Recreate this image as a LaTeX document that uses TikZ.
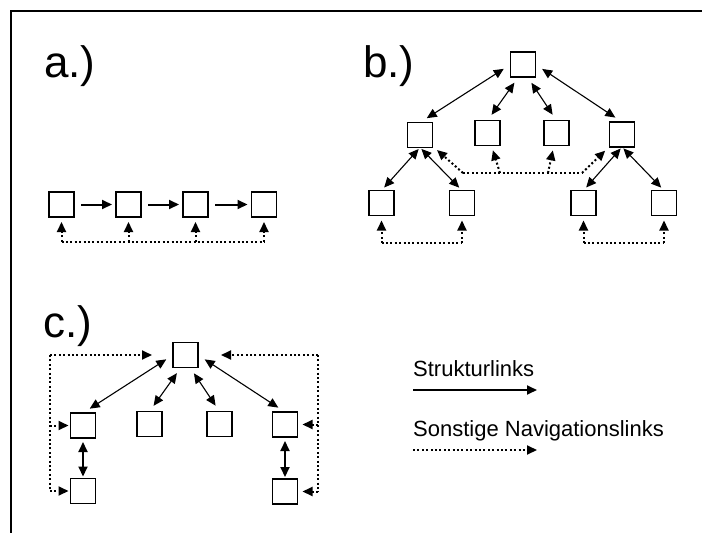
\documentclass[tikz,border=0pt]{standalone}
\usepackage{fontspec}
\setmainfont{Liberation Sans}
\usetikzlibrary{arrows.meta}
\begin{document}
\begin{tikzpicture}[x=1pt,y=-1pt,
  >={Triangle[length=10pt,width=9pt]},
  box/.style={draw, line width=1.3pt, minimum size=25pt, inner sep=0pt, outer sep=0pt},
  lbl/.style={anchor=base west, inner sep=0pt, font=\fontsize{44}{50}\selectfont},
  legtxt/.style={anchor=base west, inner sep=0pt, font=\fontsize{22}{26}\selectfont},
  struct/.style={line width=1.1pt, <->, shorten <=7pt, shorten >=7pt},
  thickarr/.style={line width=2pt, ->},
  thickdbl/.style={line width=2pt, <->},
  navline/.style={line width=2pt, dash pattern=on 2pt off 2.4pt},
  nav/.style={navline, ->}
]
\useasboundingbox (0,0) rectangle (702,533);
% frame
\draw[line width=2pt] (11,533) -- (11,11) -- (702,11);

% ---------- a.) ----------
\node[lbl] (la) at (44,77) {a.)};
\node[box] (a1) at (61.5,204.5) {};
\node[box] (a2) at (128.5,204.5) {};
\node[box] (a3) at (195.5,204.5) {};
\node[box] (a4) at (264,204.5) {};
\foreach \i/\j in {1/2,2/3,3/4}
  \draw[thickarr, shorten <=7pt, shorten >=4pt] (a\i.east) -- (a\j.west);
\coordinate (da1) at (61.5,241.5);
\coordinate (da2) at (128.5,241.5);
\coordinate (da3) at (195.5,241.5);
\coordinate (da4) at (264,241.5);
\draw[navline] (da1) -- (da4);
\foreach \i in {1,2,3,4}
  \draw[nav, shorten >=5pt] (da\i) -- (a\i.south);

% ---------- b.) ----------
\node[lbl] (lb) at (363,77) {b.)};
\node[box] (bT) at (523,64.5) {};
\node[box] (bL) at (420,135) {};
\node[box] (bML) at (487.5,133) {};
\node[box] (bMR) at (556.5,133) {};
\node[box] (bR) at (622,134.5) {};
\node[box] (bLL) at (381.5,203) {};
\node[box] (bLR) at (462,203) {};
\node[box] (bRL) at (583.5,203) {};
\node[box] (bRR) at (664,203) {};
\draw[struct, shorten <=8pt, shorten >=8pt] (bT.west) -- (bL.north);
\draw[struct] (bT.250) -- (bML.north);
\draw[struct] (bT.290) -- (bMR.north);
\draw[struct, shorten <=8pt, shorten >=8pt] (bT.east) -- (bR.north);
\draw[struct, shorten <=2pt, shorten >=4pt] (bL.south) -- (bLL.north);
\draw[struct, shorten <=2pt, shorten >=4pt] (bL.south) -- (bLR.north);
\draw[struct, shorten <=2pt, shorten >=4pt] (bR.south) -- (bRL.north);
\draw[struct, shorten <=2pt, shorten >=4pt] (bR.south) -- (bRR.north);
% middle navigation
\coordinate (m1) at (463,173);
\coordinate (m2) at (500,173);
\coordinate (m3) at (548,173);
\coordinate (m4) at (582,173);
\draw[navline] (m1) -- (m4);
\draw[nav, shorten >=6pt] (m1) -- (bL);
\draw[nav, shorten >=5pt] (m2) -- (bML);
\draw[nav, shorten >=5pt] (m3) -- (bMR);
\draw[nav, shorten >=6pt] (m4) -- (bR);
% bottom navigation
\coordinate (dLL) at (381.5,243);
\coordinate (dLR) at (462,243);
\coordinate (dRL) at (583.5,243);
\coordinate (dRR) at (664,243);
\draw[navline] (dLL) -- (dLR);
\draw[navline] (dRL) -- (dRR);
\foreach \n in {LL,LR,RL,RR}
  \draw[nav, shorten >=5pt] (d\n) -- (b\n.south);

% ---------- c.) ----------
\node[lbl] (lc) at (43,337) {c.)};
\node[box] (cT) at (185.5,355) {};
\node[box] (cL) at (83,425.5) {};
\node[box] (cML) at (149.5,424) {};
\node[box] (cMR) at (219.5,424) {};
\node[box] (cR) at (285,424.5) {};
\node[box] (cLL) at (83,491) {};
\node[box] (cRR) at (285,491.5) {};
\draw[struct, shorten <=8pt, shorten >=8pt] (cT.west) -- (cL.north);
\draw[struct] (cT.250) -- (cML.north);
\draw[struct] (cT.290) -- (cMR.north);
\draw[struct, shorten <=8pt, shorten >=8pt] (cT.east) -- (cR.north);
\draw[thickdbl, shorten <=4pt, shorten >=2pt] (cL.south) -- (cLL.north);
\draw[thickdbl, shorten <=4pt, shorten >=2pt] (cR.south) -- (cRR.north);
% left loop
\coordinate (cl1) at (50,355);
\coordinate (cl2) at (50,425.5);
\coordinate (cl3) at (50,491);
\draw[navline] (cl1) -- (cl3);
\draw[nav, shorten >=21pt] (cl1) -- (cT.west);
\draw[nav, shorten >=2pt] (cl2) -- (cL.west);
\draw[nav, shorten >=2pt] (cl3) -- (cLL.west);
% right loop
\coordinate (cr1) at (318,355);
\coordinate (cr2) at (318,424.5);
\coordinate (cr3) at (318,491.5);
\draw[navline] (cr1) -- (cr3);
\draw[nav, shorten >=23pt] (cr1) -- (cT.east);
\draw[nav, shorten >=5pt] (cr2) -- (cR.east);
\draw[nav, shorten >=5pt] (cr3) -- (cRR.east);

% ---------- legend ----------
\node[legtxt] (t1) at (413,376.5) {Strukturlinks};
\coordinate (ls1) at (413,390);
\coordinate (ls2) at (537,390);
\draw[line width=1.8pt, ->] (ls1) -- (ls2);
\node[legtxt] (t2) at (413,436.5) {Sonstige Navigationslinks};
\coordinate (ln1) at (413,450);
\coordinate (ln2) at (537,450);
\draw[nav] (ln1) -- (ln2);
\end{tikzpicture}
\end{document}
